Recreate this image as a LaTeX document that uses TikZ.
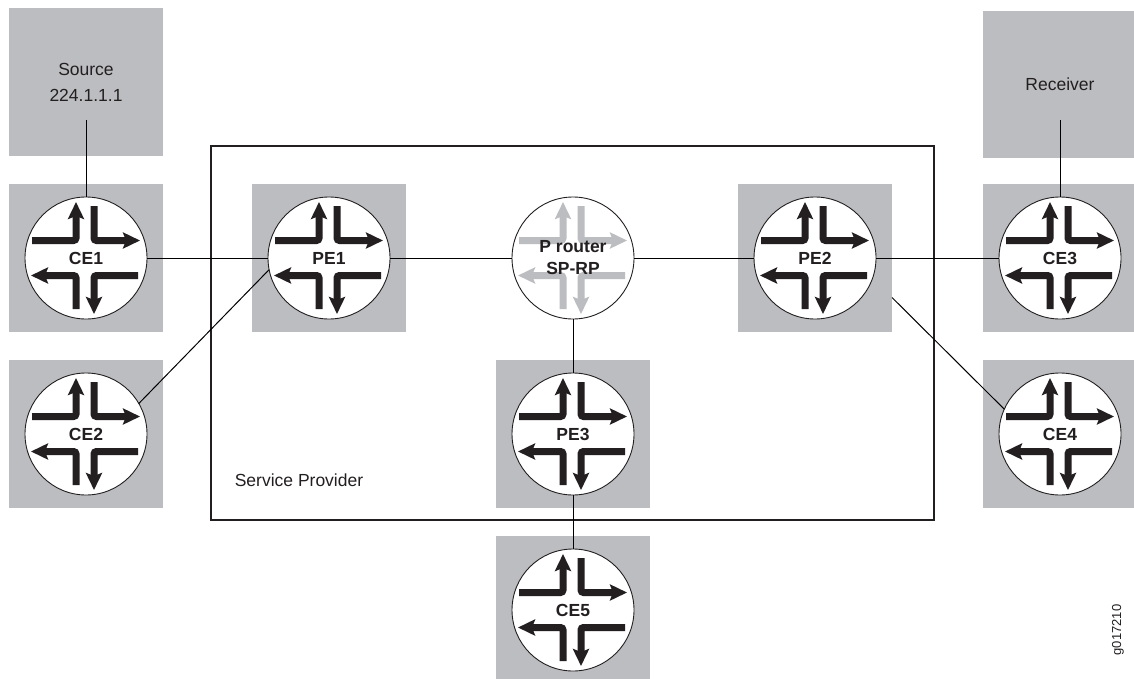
\documentclass[tikz,border=0pt]{standalone}
\usepackage{fontspec}
\setmainfont{Liberation Sans}
\usetikzlibrary{arrows.meta}
\definecolor{boxgray}{HTML}{BCBDC0}
\definecolor{inkblack}{HTML}{231F20}
\tikzset{
  greybox/.style={fill=boxgray,inner sep=0pt,outer sep=0pt,minimum width=154pt,minimum height=148pt},
  router/.style={circle,draw=inkblack,fill=white,line width=0.9pt,inner sep=0pt,outer sep=0pt,minimum size=122pt},
  routertext/.style={font=\fontsize{17.5}{22}\selectfont\bfseries,text=inkblack,align=center,inner sep=0pt},
  plaintext/.style={font=\fontsize{17.5}{26}\selectfont,text=inkblack,align=center,inner sep=0pt},
  flow/.style={line width=7pt,rounded corners=2.5pt,-{Stealth[length=17pt,width=16pt,inset=3pt]}},
  link/.style={line width=1pt,draw=black}
}
% the four bent arrows of a router, #1 is the centre, #2 the colour
\newcommand{\routerflows}[2]{
  \draw[flow,#2] ([shift={(-54,-17.5)}]#1.center) -- ([shift={(-10,-17.5)}]#1.center) -- ([shift={(-10,-56)}]#1.center);
  \draw[flow,#2] ([shift={(8,-52)}]#1.center) -- ([shift={(8,-17.5)}]#1.center) -- ([shift={(54,-17.5)}]#1.center);
  \draw[flow,#2] ([shift={(52,17.5)}]#1.center) -- ([shift={(8,17.5)}]#1.center) -- ([shift={(8,56)}]#1.center);
  \draw[flow,#2] ([shift={(-10,51)}]#1.center) -- ([shift={(-10,17.5)}]#1.center) -- ([shift={(-55,17.5)}]#1.center);
}
\begin{document}
\begin{tikzpicture}[x=1pt,y=-1pt]
  \useasboundingbox (0,0) rectangle (1134,679);

  % service provider frame
  \draw[line width=1.1pt,draw=inkblack] (211,146) rectangle (934,520);
  \node[plaintext] (spname) at (299,480) {Service Provider};

  % grey squares
  \foreach \boxname/\px/\py in {CE1box/86/258,CE2box/86/434,PE1box/329/258,PE2box/815/258,
      CE3box/1060/258,CE4box/1060/434,PE3box/573/434}
    \node[greybox] (\boxname) at (\px,\py) {};
  \node[greybox,minimum height=143pt] (CE5box) at (573,607.5) {};
  \node[greybox] (sourcebox) at (86,82) {};
  \node[greybox,minimum height=147pt] (receiverbox) at (1060,84.5) {};

  % routers, circles only for now so that the links end on them
  \foreach \rname/\px/\py in {CE1/86/258,CE2/86/434,PE1/329/258,PE2/815/258,
      CE3/1060/258,CE4/1060/434,PE3/573/434,CE5/573/610,P/573/258}
    \node[router] (\rname) at (\px,\py) {};

  % free ends of links
  \coordinate (sourceend) at (86,120);
  \coordinate (receiverend) at (1060,120);
  \coordinate (PE2end) at (892,297.5);

  \draw[link] (sourceend) -- (CE1);
  \draw[link] (receiverend) -- (CE3);
  \draw[link] (CE1) -- (PE1);
  \draw[link] (PE1) -- (P);
  \draw[link] (P) -- (PE2);
  \draw[link] (PE2) -- (CE3);
  \draw[link] (P) -- (PE3);
  \draw[link] (PE3) -- (CE5);
  \draw[link] (CE2.30) -- (PE1.191);
  \draw[link] (PE2end) -- (CE4.156);

  \foreach \rname in {CE1,CE2,PE1,PE2,CE3,CE4,PE3,CE5}{
    \routerflows{\rname}{inkblack}
    \node[routertext] (\rname text) at (\rname) {\rname};
  }
  \routerflows{P}{boxgray}
  \node[routertext] (Ptext) at (P) {P router\\SP-RP};

  \node[plaintext] (sourcetext) at (86,82) {Source\\224.1.1.1};
  \node[plaintext] (receivertext) at (1060,84) {Receiver};
  \node[rotate=90,font=\fontsize{13}{13}\selectfont,text=inkblack,inner sep=0pt] (figid) at (1118,630) {g017210};
\end{tikzpicture}
\end{document}
